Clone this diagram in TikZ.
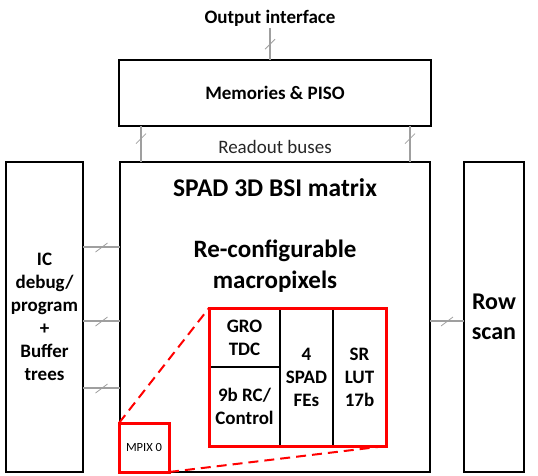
\documentclass[tikz,border=0pt]{standalone}
\usepackage{fontspec}
\setmainfont{Carlito}
\usetikzlibrary{calc}
\tikzset{
  blk/.style={draw=black,line width=2.8pt,inner sep=0pt,outer sep=0pt},
  redblk/.style={draw=red,line width=3pt,inner sep=0pt,outer sep=0pt},
  bus/.style={draw=gray!75,line width=1.1pt},
  tickline/.style={draw=gray!75,line width=0.8pt},
  reddash/.style={draw=red,line width=2pt,dash pattern=on 10pt off 6pt},
  lbl/.style={font=\bfseries\fontsize{19}{23}\selectfont,align=center,inner sep=0pt},
  biglbl/.style={font=\bfseries\fontsize{25}{31}\selectfont,align=center,inner sep=0pt},
  plain/.style={font=\fontsize{19}{23}\selectfont,align=center,inner sep=0pt,text=black!85},
}
\newcommand\bustick[1]{\draw[tickline] ($(#1)+(-5,5)$) -- ($(#1)+(5,-5)$);}
\newcommand\hbustick[1]{\draw[tickline] ($(#1)+(-6,5)$) -- ($(#1)+(6,-4)$);}
\begin{document}
\begin{tikzpicture}[x=1pt,y=-1pt]
\useasboundingbox (0,0) rectangle (538,475);

% main blocks
\node[lbl,inner sep=2pt] (out) at (270,18) {Output interface};
\node[blk,lbl,minimum width=312pt,minimum height=66pt] (mem) at (275,93) {Memories \& PISO};
\node[blk,minimum width=310pt,minimum height=310pt] (main) at (275,317) {};
\node[blk,lbl,minimum width=77pt,minimum height=310pt,text width=77pt] (left) at (44.5,317) {IC\\debug/\\program\\+\\Buffer\\trees};
\node[blk,biglbl,minimum width=60pt,minimum height=310pt,text width=60pt,font=\bfseries\fontsize{24}{30}\selectfont] (row) at (494,317) {Row\\scan};

% texts in matrix
\node[biglbl,font=\bfseries\fontsize{25.5}{31}\selectfont] (title) at (275,188) {SPAD 3D BSI matrix};
\node[biglbl] (recfg) at (275,266) {Re-configurable\\macropixels};
\node[plain] (rob) at (275,147) {Readout buses};

% macropixel detail
\node[blk,lbl,minimum width=71pt,minimum height=59pt] (gro) at (244.5,337.5) {GRO\\TDC};
\node[blk,lbl,minimum width=71pt,minimum height=79pt] (rc) at (244.5,406.5) {9b RC/\\Control};
\node[blk,lbl,minimum width=53pt,minimum height=138pt] (spad) at (306.5,377) {4\\SPAD\\FEs};
\node[blk,lbl,minimum width=53pt,minimum height=138pt] (sr) at (359.5,377) {SR\\LUT\\17b};
\node[redblk,minimum width=177pt,minimum height=138pt] (mp) at (297.5,377) {};
\node[redblk,minimum width=50pt,minimum height=49pt,font=\fontsize{12.5}{15}\selectfont] (mpix) at (144,447.5) {MPIX 0};

\draw[reddash] (mpix.north west) -- (mp.north west);
\draw[reddash] (mpix.south east) -- (mp.south east);

% buses
\draw[bus] (out.south) -- coordinate[pos=0.5] (t0) (out.south |- mem.north);
\bustick{t0}
\coordinate (bx1) at (141,0);
\coordinate (bx2) at (410,0);
\draw[bus] (bx1 |- mem.south) -- coordinate[pos=0.35] (t1) (bx1 |- main.north);
\draw[bus] (bx2 |- mem.south) -- coordinate[pos=0.35] (t2) (bx2 |- main.north);
\bustick{t1}
\bustick{t2}

\coordinate (ly1) at (0,247);
\coordinate (ly2) at (0,321);
\coordinate (ly3) at (0,388);
\draw[bus] (ly1 -| left.east) -- coordinate[pos=0.5] (t3) (ly1 -| main.west);
\draw[bus] (ly2 -| left.east) -- coordinate[pos=0.5] (t4) (ly2 -| main.west);
\draw[bus] (ly3 -| left.east) -- coordinate[pos=0.5] (t5) (ly3 -| main.west);
\hbustick{t3}
\hbustick{t4}
\hbustick{t5}
\draw[bus] (ly2 -| main.east) -- coordinate[pos=0.5] (t6) (ly2 -| row.west);
\hbustick{t6}
\end{tikzpicture}
\end{document}
